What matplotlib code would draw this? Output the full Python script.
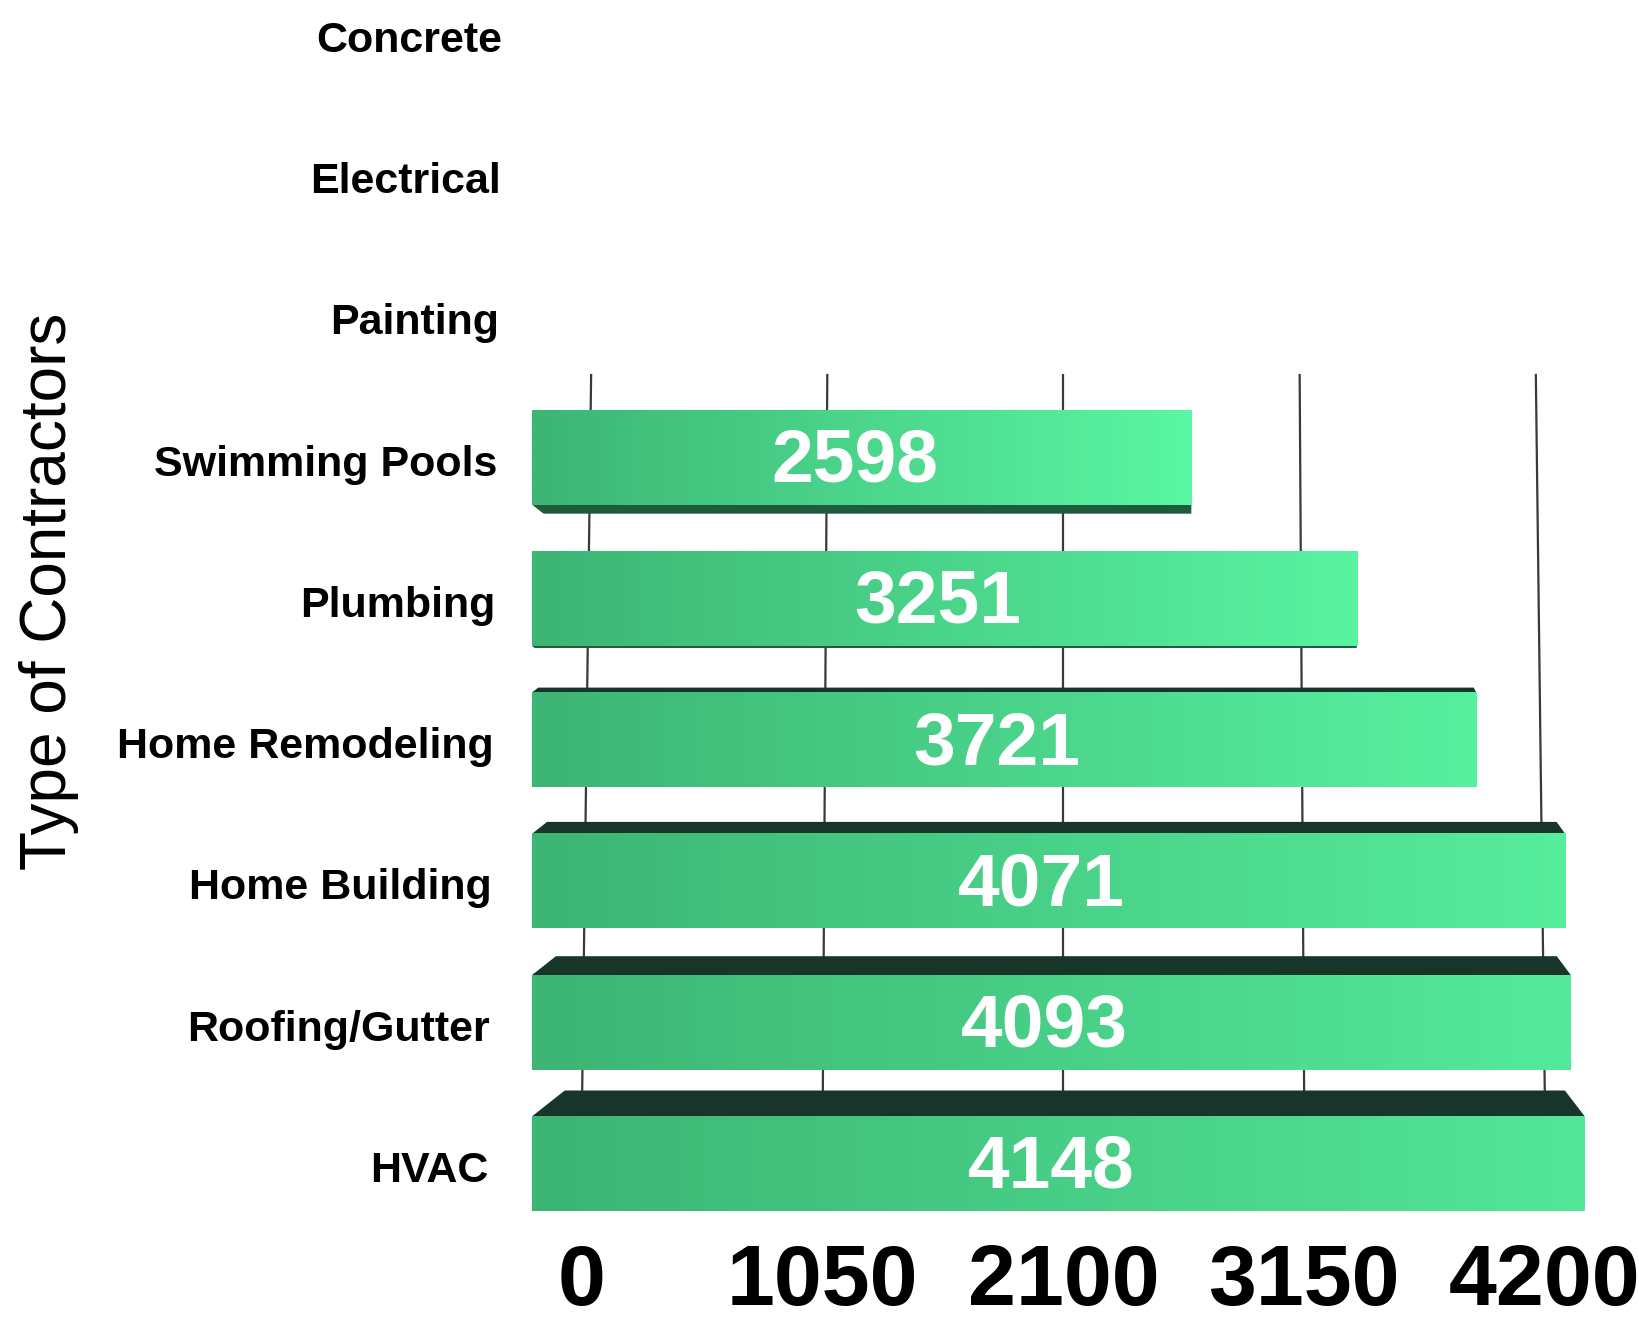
import numpy as np
import matplotlib.pyplot as plt
from matplotlib.colors import LinearSegmentedColormap
from matplotlib.patches import Polygon

plt.rcParams['font.family'] = ['Liberation Sans', 'DejaVu Sans']

# Contractor counts (no bar for the first three types)
categories = ['Concrete', 'Electrical', 'Painting', 'Swimming Pools', 'Plumbing',
              'Home Remodeling', 'Home Building', 'Roofing/Gutter', 'HVAC']
values = [np.nan, np.nan, np.nan, 2598, 3251, 3721, 4071, 4093, 4148]
ticks = [0, 1050, 2100, 3150, 4200]
tick_labels = ['0', '1050', '2100', '3150', '4200']

W, H = 1639, 1326
fig = plt.figure(figsize=(W / 100, H / 100), dpi=100)
pos = [532 / W, 96 / H, 1068 / W, 1230 / H]
ylim = (8.469, -0.236)

# back wall: grid lines and value ticks (slightly narrower scale than the bars)
back = fig.add_axes(pos)
back.set_xlim(-218, 4440)
back.set_ylim(*ylim)
for t in ticks:
    t_top = 2100 + (t - 2100) * 0.981
    back.plot([t, t_top], [7.6, 2.41], color='#3a3a3a', lw=1.6, solid_capstyle='butt')
back.set_xticks(ticks)
back.set_xticklabels(tick_labels, fontsize=62, fontweight='bold')
back.tick_params(axis='x', length=0, pad=9)
back.set_yticks([])
for s in back.spines.values():
    s.set_visible(False)

# front: the bars themselves
ax = fig.add_axes(pos)
ax.patch.set_visible(False)
for s in ax.spines.values():
    s.set_visible(False)

cmap = LinearSegmentedColormap.from_list('bar', ['#3db574', '#5af7a4'])
bar_h = 0.67
vanish_x = 2581   # where the bar sides converge
depth_ref = 518.0
px_per_row = 141.3

for i, v in enumerate(values):
    if np.isnan(v):
        continue
    y_bot = i + bar_h / 2
    y_top = i - bar_h / 2
    bright = 1.0 - 0.05 * (i - 3)
    grad = np.linspace(0.0, bright, 256).reshape(1, -1)
    ax.imshow(grad, extent=(0, v, y_bot, y_top), aspect='auto', cmap=cmap,
              vmin=0, vmax=1, interpolation='bilinear', zorder=3)

    # top face for bars below eye level, bottom face for those above
    depth = 7.0 * (i - 4.3)
    k = abs(depth) / depth_ref
    bl = vanish_x * k
    br = v + (vanish_x - v) * k
    dy = abs(depth) / px_per_row
    if depth > 0:
        edge, back_y, fc = y_top, y_top - dy, '#173528'
    else:
        edge, back_y, fc = y_bot, y_bot + dy, '#1f5a3a'
    ax.add_patch(Polygon([(0, edge), (v, edge), (br, back_y), (bl, back_y)],
                         closed=True, facecolor=fc, edgecolor='none', zorder=2.9))

    ax.text(v / 2 - 28, i - 0.02, f'{v:.0f}', color='white', fontsize=54,
            fontweight='bold', ha='center', va='center_baseline', zorder=5)

# category names, drifting slightly left further down
for i, name in enumerate(categories):
    ax.text(-118 - 6.6 * i, i + 0.02, name, fontsize=31, fontweight='bold',
            ha='right', va='center_baseline', clip_on=False)

ax.set_xlim(0, 4208)
ax.set_ylim(*ylim)
ax.set_xticks([])
ax.set_yticks([])

fig.text(49 / W, 1 - 591 / H, 'Type of Contractors', rotation=90, fontsize=46,
         ha='center', va='center')

plt.savefig('out.png', dpi=100)
